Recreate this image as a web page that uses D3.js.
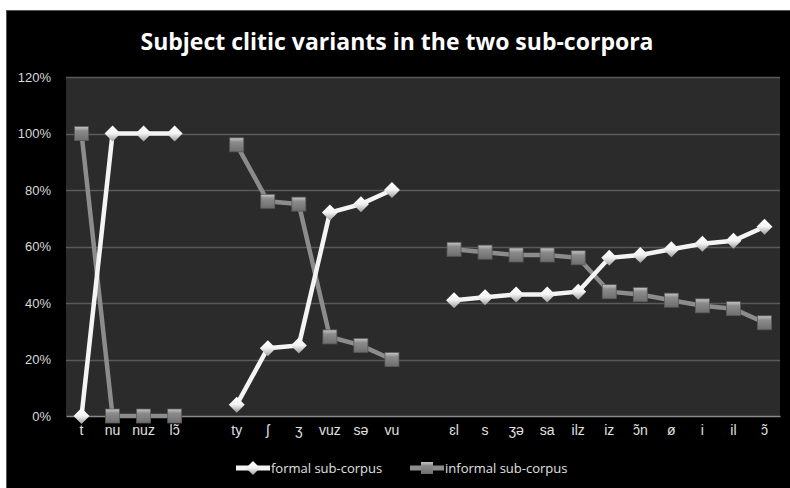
<!DOCTYPE html>
<html>
<head>
<meta charset="utf-8">
<script src="https://cdn.jsdelivr.net/npm/d3@7"></script>
<style>
  html, body { margin: 0; padding: 0; background: #fff; }
  svg { display: block; }
</style>
</head>
<body>
<div id="chart"></div>
<script>
// catégories (les "" sont les trous entre les groupes)
const categories = ["t", "nu", "nuz", "lɔ̃", "", "ty", "ʃ", "ʒ", "vuz", "sə", "vu", "",
  "ɛl", "s", "ʒə", "sa", "ilz", "iz", "ɔ̃n", "ø", "i", "il", "ɔ̃"];
const formal = [0, 100, 100, 100, null, 4, 24, 25, 72, 75, 80, null,
  41, 42, 43, 43, 44, 56, 57, 59, 61, 62, 67];
const informal = [100, 0, 0, 0, null, 96, 76, 75, 28, 25, 20, null,
  59, 58, 57, 57, 56, 44, 43, 41, 39, 38, 33];
const yTicks = [0, 20, 40, 60, 80, 100, 120];

const width = 790, height = 488;
const margin = { top: 77, right: 10, bottom: 72, left: 66 };

const svg = d3.select("#chart").append("svg")
  .attr("width", width)
  .attr("height", height)
  .style("font-family", "'Open Sans', sans-serif");

// dégradés pour les marqueurs
const defs = svg.append("defs");
const gd = defs.append("linearGradient").attr("id", "gDiamond").attr("x1", 0).attr("y1", 0).attr("x2", 0).attr("y2", 1);
gd.append("stop").attr("offset", "0%").attr("stop-color", "#ffffff");
gd.append("stop").attr("offset", "50%").attr("stop-color", "#f2f2f2");
gd.append("stop").attr("offset", "100%").attr("stop-color", "#9a9a9a");
const gs = defs.append("linearGradient").attr("id", "gSquare").attr("x1", 0).attr("y1", 0).attr("x2", 0).attr("y2", 1);
gs.append("stop").attr("offset", "0%").attr("stop-color", "#c8c8c8");
gs.append("stop").attr("offset", "30%").attr("stop-color", "#8c8c8c");
gs.append("stop").attr("offset", "100%").attr("stop-color", "#6e6e6e");

// fond noir du graphique
svg.append("rect")
  .attr("x", 6.5).attr("y", 10.5)
  .attr("width", width - 6).attr("height", height - 10)
  .attr("fill", "#000")
  .attr("stroke", "#555");

const x = d3.scaleBand()
  .domain(d3.range(categories.length))
  .range([margin.left, width - margin.right]);

const y = d3.scaleLinear()
  .domain([0, 120])
  .range([height - margin.bottom, margin.top]);

// zone de tracé
svg.append("rect")
  .attr("x", margin.left).attr("y", margin.top)
  .attr("width", width - margin.right - margin.left)
  .attr("height", y(0) - margin.top)
  .attr("fill", "#2b2b2b");

// grille
svg.append("g")
  .selectAll("line")
  .data(yTicks.filter(d => d > 0))
  .join("line")
  .attr("x1", margin.left).attr("x2", width - margin.right)
  .attr("y1", d => Math.round(y(d)) + 0.5).attr("y2", d => Math.round(y(d)) + 0.5)
  .attr("stroke", "#5a5a5a")
  .attr("stroke-width", 1.5);

// axe Y
const yAxis = svg.append("g")
  .attr("transform", `translate(${margin.left},0)`)
  .call(d3.axisLeft(y).tickValues(yTicks).tickFormat(d => d + "%").tickSize(0).tickPadding(15));
yAxis.select(".domain").remove();
yAxis.selectAll("text").style("font-size", "13px").style("fill", "#d9d9d9");

// axe X
const xAxis = svg.append("g")
  .attr("transform", `translate(0,${y(0)})`)
  .call(d3.axisBottom(x).tickFormat(i => categories[i]).tickSize(0).tickPadding(9));
xAxis.select(".domain").attr("stroke", "#8a8a8a").attr("stroke-width", 1.5);
xAxis.selectAll("text").style("font-size", "14px").style("fill", "#e0e0e0");

const cx = i => x(i) + x.bandwidth() / 2;

const line = d3.line()
  .defined(d => d != null)
  .x((d, i) => cx(i))
  .y(d => y(d));

// lignes
svg.append("path")
  .datum(informal)
  .attr("fill", "none")
  .attr("stroke", "#8c8c8c")
  .attr("stroke-width", 4.5)
  .attr("d", line);

svg.append("path")
  .datum(formal)
  .attr("fill", "none")
  .attr("stroke", "#f4f4f4")
  .attr("stroke-width", 4.5)
  .attr("d", line);

// marqueurs carrés (informel)
const pts = arr => arr.map((v, i) => ({ v, i })).filter(d => d.v != null);
svg.append("g")
  .selectAll("rect")
  .data(pts(informal))
  .join("rect")
  .attr("x", d => cx(d.i) - 7).attr("y", d => y(d.v) - 7)
  .attr("width", 14).attr("height", 14)
  .attr("fill", "url(#gSquare)")
  .attr("stroke", "#5a5a5a")
  .attr("stroke-width", 0.8);

// marqueurs losanges (formel)
svg.append("g")
  .selectAll("path")
  .data(pts(formal))
  .join("path")
  .attr("d", d => `M${cx(d.i)},${y(d.v) - 8}L${cx(d.i) + 8},${y(d.v)}L${cx(d.i)},${y(d.v) + 8}L${cx(d.i) - 8},${y(d.v)}Z`)
  .attr("fill", "url(#gDiamond)");

// titre
svg.append("text")
  .attr("x", 397).attr("y", 50)
  .attr("text-anchor", "middle")
  .style("font-size", "23px")
  .style("font-weight", "bold")
  .style("fill", "#fff")
  .text("Subject clitic variants in the two sub-corpora");

// légende
const legend = [
  { name: "formal sub-corpus", x: 236, stroke: "#f4f4f4", shape: "diamond" },
  { name: "informal sub-corpus", x: 410, stroke: "#8c8c8c", shape: "square" }
];
const ly = 468;
legend.forEach(l => {
  svg.append("line")
    .attr("x1", l.x).attr("x2", l.x + 34)
    .attr("y1", ly).attr("y2", ly)
    .attr("stroke", l.stroke).attr("stroke-width", 5);
  const m = l.x + 17;
  if (l.shape === "diamond") {
    svg.append("path")
      .attr("d", `M${m},${ly - 7}L${m + 7},${ly}L${m},${ly + 7}L${m - 7},${ly}Z`)
      .attr("fill", "url(#gDiamond)");
  } else {
    svg.append("rect")
      .attr("x", m - 6).attr("y", ly - 6).attr("width", 12).attr("height", 12)
      .attr("fill", "url(#gSquare)");
  }
  svg.append("text")
    .attr("x", l.x + 35).attr("y", ly + 5)
    .style("font-size", "13px")
    .style("fill", "#e0e0e0")
    .text(l.name);
});
</script>
</body>
</html>
